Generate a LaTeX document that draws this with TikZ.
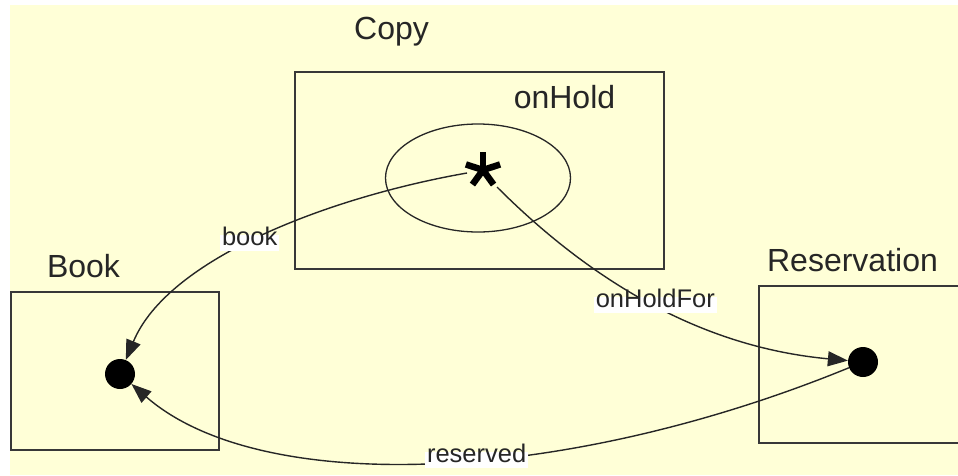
\documentclass[tikz,border=0pt]{standalone}
\usepackage{fontspec}
\setmainfont{Liberation Sans}
\usetikzlibrary{arrows.meta,shapes.geometric}
\definecolor{paper}{HTML}{FFFFD7}
\definecolor{frame}{HTML}{383838}
\begin{document}
\begin{tikzpicture}[x=1pt,y=-1pt,
  region/.style={draw=frame, line width=1.8pt, inner sep=0pt},
  title/.style={anchor=base, inner sep=0pt, font=\fontsize{32}{38}\selectfont, text=black!85},
  dot/.style={circle, fill=black, minimum size=30pt, inner sep=0pt},
  link/.style={draw=black!85, line width=1.4pt, -{Triangle[length=20pt,width=15pt]}},
  tag/.style={fill=white, inner xsep=2pt, inner ysep=3pt, text height=0.76em, text depth=0.24em,
    font=\fontsize{25.5}{30}\selectfont, text=black!85}]
  \useasboundingbox (0,0) rectangle (958,475);
  \clip (0,0) rectangle (958,475);
  \fill[paper] (10,5) rectangle (958,475);

  % class regions
  \node[region, minimum width=369pt, minimum height=197pt] (copy) at (479.5,170.5) {};
  \node[region, minimum width=208pt, minimum height=158pt] (book) at (115,371) {};
  \node[region, minimum width=211pt, minimum height=157pt] (res) at (864.5,364.5) {};

  % titles
  \node[title] (copyT) at (391.5,39) {Copy};
  \node[title] (bookT) at (83.5,277) {Book};
  \node[title] (resT) at (852.5,271) {Reservation};
  \node[title] (holdT) at (564.5,108) {onHold};

  % onHold set with its many-valued member
  \node[ellipse, draw=black!85, line width=1.3pt, minimum width=185pt, minimum height=108pt, inner sep=0pt] (hold) at (478,178) {};
  \coordinate (star) at (483,170);
  \foreach \a in {-90,-162,-18,126,54}
    \draw[line width=6.5pt, black] (star) -- ++(\a:18);
  \coordinate (starW) at (467,173);
  \coordinate (starSE) at (497,187);

  % object dots
  \node[dot] (bookdot) at (120,374) {};
  \node[dot] (resdot) at (863,362) {};

  % associations
  \draw[link] (starW) .. controls (330,197) and (168,258) .. (bookdot)
    node[tag, pos=0.53] {book};
  \draw[link] (starSE) .. controls (590,280) and (700,347) .. (resdot)
    node[tag, pos=0.51] {onHoldFor};
  \draw[link] (resdot) .. controls (560,486) and (260,496) .. (bookdot)
    node[tag, pos=0.44] {reserved};
\end{tikzpicture}
\end{document}
